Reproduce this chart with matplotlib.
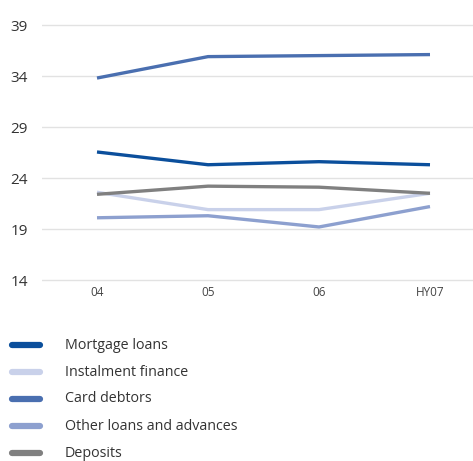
import matplotlib.pyplot as plt
from matplotlib.lines import Line2D

periods = ["04", "05", "06", "HY07"]
series_names = [
    "Mortgage loans",
    "Instalment finance",
    "Card debtors",
    "Other loans and advances",
    "Deposits",
]
mortgage = [26.55, 25.3, 25.6, 25.3]
instalment = [22.6, 20.9, 20.9, 22.5]
card = [33.8, 35.9, 36.0, 36.1]
other = [20.1, 20.3, 19.2, 21.2]
deposits = [22.4, 23.2, 23.1, 22.5]
y_ticks = [14, 19, 24, 29, 34, 39]

colors = ["#0b4f9c", "#c9d1ea", "#4a6fb0", "#8da0cf", "#808080"]
values = [mortgage, instalment, card, other, deposits]
draw_order = [1, 3, 4, 0, 2]

plt.rcParams["font.family"] = ["Open Sans", "DejaVu Sans"]

fig = plt.figure(figsize=(4.73, 4.61), dpi=100)
# 10.2 px per unit, half-unit margin so the 14 and 39 grid lines show
ax = fig.add_axes([42 / 473, 1 - 285.1 / 461, 1 - 42 / 473, 265.2 / 461])

x = list(range(len(periods)))
for i in draw_order:
    ax.plot(x, values[i], color=colors[i], lw=2.4, solid_capstyle="butt",
            zorder=3)

ax.set_ylim(13.5, 39.5)
ax.set_xlim(-55 / 111, 3 + 43 / 111)
ax.set_yticks(y_ticks)
ax.set_yticklabels([str(t) for t in y_ticks], fontsize=11, color="#333333")
ax.set_xticks(x)
ax.set_xticklabels(periods, fontsize=8.5, color="#444444")
ax.tick_params(length=0)
ax.tick_params(axis="y", pad=10)
ax.tick_params(axis="x", pad=1)
ax.grid(axis="y", color="#e2e2e2", lw=1)
ax.set_axisbelow(True)
for s in ax.spines.values():
    s.set_visible(False)

# legend below the chart
for k, name in enumerate(series_names):
    yy = 1 - (345 + 27 * k) / 461
    fig.add_artist(Line2D([12 / 473, 40 / 473], [yy, yy], color=colors[k],
                          lw=4.5, solid_capstyle="round"))
    fig.text(65 / 473, yy, name, fontsize=10.3, color="#333333", va="center")

fig.savefig("out.png", dpi=100)
